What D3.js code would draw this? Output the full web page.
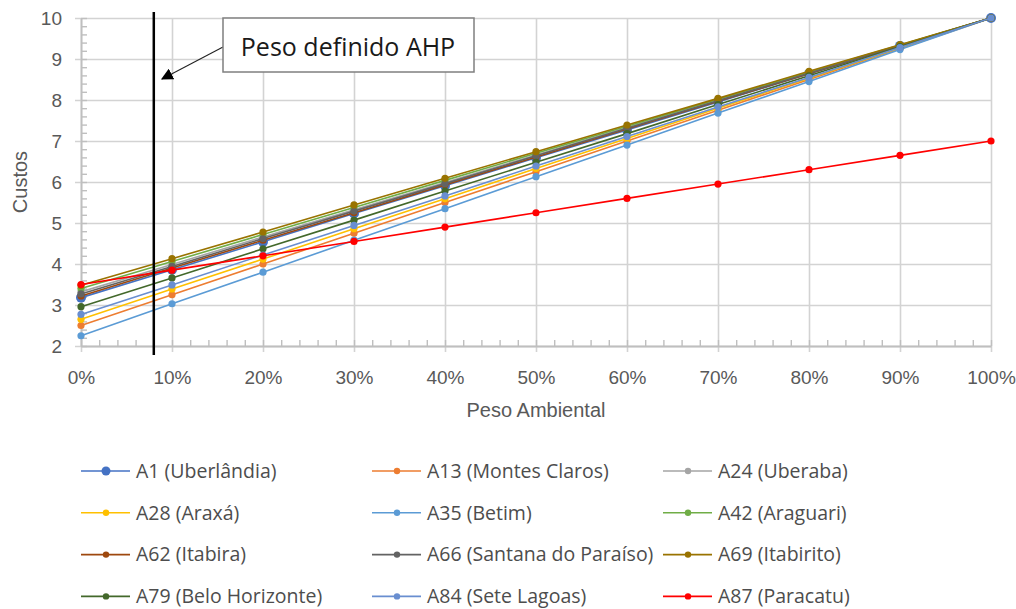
<!DOCTYPE html>
<html>
<head>
<meta charset="utf-8">
<script src="https://cdn.jsdelivr.net/npm/d3@7"></script>
<style>
  body { margin: 0; background: #ffffff; }
  svg { display: block; }
</style>
</head>
<body>
<svg id="chart" width="1016" height="609"></svg>
<script>
// Environmental weight (share of the cost given to the environmental criterion)
const weights = [0, 0.1, 0.2, 0.3, 0.4, 0.5, 0.6, 0.7, 0.8, 0.9, 1.0];
const xTickLabels = ["0%", "10%", "20%", "30%", "40%", "50%", "60%", "70%", "80%", "90%", "100%"];
const yTicks = [2, 3, 4, 5, 6, 7, 8, 9, 10];

// Weight chosen by the AHP method
const ahpWeight = 0.08;
const ahpLabel = "Peso definido AHP";

// Cost of each alternative for every environmental weight
const a1  = [3.18, 3.86, 4.54, 5.23, 5.91, 6.59, 7.27, 7.95, 8.64, 9.32, 10.0];
const a13 = [2.50, 3.25, 4.00, 4.75, 5.50, 6.25, 7.00, 7.75, 8.50, 9.25, 10.0];
const a24 = [3.32, 3.99, 4.66, 5.32, 5.99, 6.66, 7.33, 8.00, 8.66, 9.33, 10.0];
const a28 = [2.65, 3.39, 4.12, 4.86, 5.59, 6.33, 7.06, 7.80, 8.53, 9.27, 10.0];
const a35 = [2.25, 3.03, 3.80, 4.58, 5.35, 6.13, 6.90, 7.68, 8.45, 9.23, 10.0];
const a42 = [3.40, 4.06, 4.72, 5.38, 6.04, 6.70, 7.36, 8.02, 8.68, 9.34, 10.0];
const a62 = [3.22, 3.90, 4.58, 5.25, 5.93, 6.61, 7.29, 7.97, 8.64, 9.32, 10.0];
const a66 = [3.27, 3.94, 4.62, 5.29, 5.96, 6.64, 7.31, 7.98, 8.65, 9.33, 10.0];
const a69 = [3.48, 4.13, 4.78, 5.44, 6.09, 6.74, 7.39, 8.04, 8.70, 9.35, 10.0];
const a79 = [2.96, 3.66, 4.37, 5.07, 5.78, 6.48, 7.18, 7.89, 8.59, 9.30, 10.0];
const a84 = [2.77, 3.49, 4.22, 4.94, 5.66, 6.39, 7.11, 7.83, 8.55, 9.28, 10.0];
const a87 = [3.50, 3.85, 4.20, 4.55, 4.90, 5.25, 5.60, 5.95, 6.30, 6.65, 7.00];

const seriesNames = [
  "A1 (Uberlândia)", "A13 (Montes Claros)", "A24 (Uberaba)",
  "A28 (Araxá)", "A35 (Betim)", "A42 (Araguari)",
  "A62 (Itabira)", "A66 (Santana do Paraíso)", "A69 (Itabirito)",
  "A79 (Belo Horizonte)", "A84 (Sete Lagoas)", "A87 (Paracatu)"
];
const seriesValues = [a1, a13, a24, a28, a35, a42, a62, a66, a69, a79, a84, a87];
const seriesColors = [
  "#4472C4", "#ED7D31", "#A5A5A5", "#FFC000", "#5B9BD5", "#70AD47",
  "#9E480E", "#636363", "#997300", "#43682B", "#698ED0", "#FF0000"
];

const svg = d3.select("#chart");
const plot = { left: 81, right: 991, top: 18, bottom: 346 };

const x = d3.scaleLinear().domain([0, 1]).range([plot.left, plot.right]);
const y = d3.scaleLinear().domain([2, 10]).range([plot.bottom, plot.top]);

const gridColor = "#d3d3d3";
const axisColor = "#bfbfbf";
const textColor = "#595959";
const tickFont = "'Liberation Sans', Arial, sans-serif";
const legendFont = "'Open Sans', 'Noto Sans', sans-serif";

// Horizontal gridlines with y labels (lines poke 6px out past the axis)
const yGrid = svg.append("g")
  .attr("transform", `translate(${plot.right},0)`)
  .call(d3.axisLeft(y).tickValues(yTicks).tickSize(plot.right - plot.left + 6)
    .tickPadding(13).tickFormat(d3.format("d")));
yGrid.select(".domain").remove();
yGrid.selectAll(".tick line").attr("stroke", gridColor).attr("stroke-width", 1.6);
yGrid.selectAll(".tick text").attr("fill", textColor)
  .style("font-family", tickFont).style("font-size", "19px");

// Vertical gridlines with x labels
const xGrid = svg.append("g")
  .attr("transform", `translate(0,${plot.top})`)
  .call(d3.axisBottom(x).tickValues(weights).tickSize(plot.bottom - plot.top + 6)
    .tickPadding(19).tickFormat((d, i) => xTickLabels[i]));
xGrid.select(".domain").remove();
xGrid.selectAll(".tick line").attr("stroke", gridColor).attr("stroke-width", 1.6);
xGrid.selectAll(".tick text").attr("fill", textColor)
  .style("font-family", tickFont).style("font-size", "19px");

// Minor ticks pointing into the plot, plus the axis lines
const yMinor = svg.append("g")
  .attr("transform", `translate(${plot.left},0)`)
  .call(d3.axisLeft(y).tickValues(d3.range(2, 10.001, 0.2)).tickSizeInner(-6).tickSizeOuter(0).tickFormat(""));
yMinor.select(".domain").attr("stroke", axisColor).attr("stroke-width", 1.8);
yMinor.selectAll(".tick line").attr("stroke", axisColor).attr("stroke-width", 1.4);

const xMinor = svg.append("g")
  .attr("transform", `translate(0,${plot.bottom})`)
  .call(d3.axisBottom(x).tickValues(d3.range(0, 1.0001, 0.02)).tickSizeInner(-6).tickSizeOuter(0).tickFormat(""));
xMinor.select(".domain").attr("stroke", axisColor).attr("stroke-width", 1.8);
xMinor.selectAll(".tick line").attr("stroke", axisColor).attr("stroke-width", 1.4);

// Axis titles
svg.append("text")
  .attr("x", (plot.left + plot.right) / 2).attr("y", 417)
  .attr("text-anchor", "middle").attr("fill", textColor)
  .style("font-family", tickFont).style("font-size", "20px")
  .text("Peso Ambiental");

svg.append("text")
  .attr("transform", `translate(27,${(plot.top + plot.bottom) / 2}) rotate(-90)`)
  .attr("text-anchor", "middle").attr("fill", textColor)
  .style("font-family", tickFont).style("font-size", "20px")
  .text("Custos");

// Series lines and markers
const line = d3.line().x((d, i) => x(weights[i])).y(d => y(d));
const series = svg.append("g").selectAll("g")
  .data(seriesValues).join("g");

series.append("path")
  .attr("d", d => line(d))
  .attr("fill", "none")
  .attr("stroke", (d, i) => seriesColors[i])
  .attr("stroke-width", 1.6);

series.each(function (vals, si) {
  d3.select(this).selectAll("circle")
    .data(vals).join("circle")
    .attr("cx", (d, i) => x(weights[i]))
    .attr("cy", d => y(d))
    .attr("r", si === 0 ? 5 : 3.6)
    .attr("fill", seriesColors[si]);
});

// AHP marker line
svg.append("line")
  .attr("x1", x(ahpWeight)).attr("x2", x(ahpWeight))
  .attr("y1", 12).attr("y2", 355)
  .attr("stroke", "#000").attr("stroke-width", 2.5);

// Callout box with arrow pointing to the AHP line
svg.append("defs").append("marker")
  .attr("id", "arrowhead")
  .attr("viewBox", "0 0 10 10").attr("refX", 9).attr("refY", 5)
  .attr("markerWidth", 12).attr("markerHeight", 12)
  .attr("markerUnits", "userSpaceOnUse")
  .attr("orient", "auto")
  .append("path").attr("d", "M0,0 L10,5 L0,10 Z").attr("fill", "#000");

svg.append("line")
  .attr("x1", 223).attr("y1", 47)
  .attr("x2", 162).attr("y2", 79)
  .attr("stroke", "#222").attr("stroke-width", 1.1)
  .attr("marker-end", "url(#arrowhead)");

svg.append("rect")
  .attr("x", 223).attr("y", 18).attr("width", 251).attr("height", 54)
  .attr("fill", "#fff").attr("stroke", "#7f7f7f").attr("stroke-width", 1.5);

svg.append("text")
  .attr("x", 348).attr("y", 56)
  .attr("text-anchor", "middle").attr("fill", "#1a1a1a")
  .style("font-family", legendFont).style("font-size", "25px")
  .text(ahpLabel);

// Legend: three columns, four rows
const legend = svg.append("g").selectAll("g")
  .data(seriesNames).join("g")
  .attr("transform", (d, i) => `translate(${81 + (i % 3) * 291},${471 + Math.floor(i / 3) * 41.8})`);

legend.append("line")
  .attr("x1", 0).attr("x2", 49).attr("y1", 0).attr("y2", 0)
  .attr("stroke", (d, i) => seriesColors[i]).attr("stroke-width", 1.6);
legend.append("circle")
  .attr("cx", 25).attr("cy", 0)
  .attr("r", (d, i) => i === 0 ? 4.5 : 3.2)
  .attr("fill", (d, i) => seriesColors[i]);
legend.append("text")
  .attr("x", 55).attr("y", 0).attr("dy", "0.35em")
  .attr("fill", "#4d4d4d")
  .style("font-family", legendFont).style("font-size", "19.5px")
  .text(d => d);
</script>
</body>
</html>
